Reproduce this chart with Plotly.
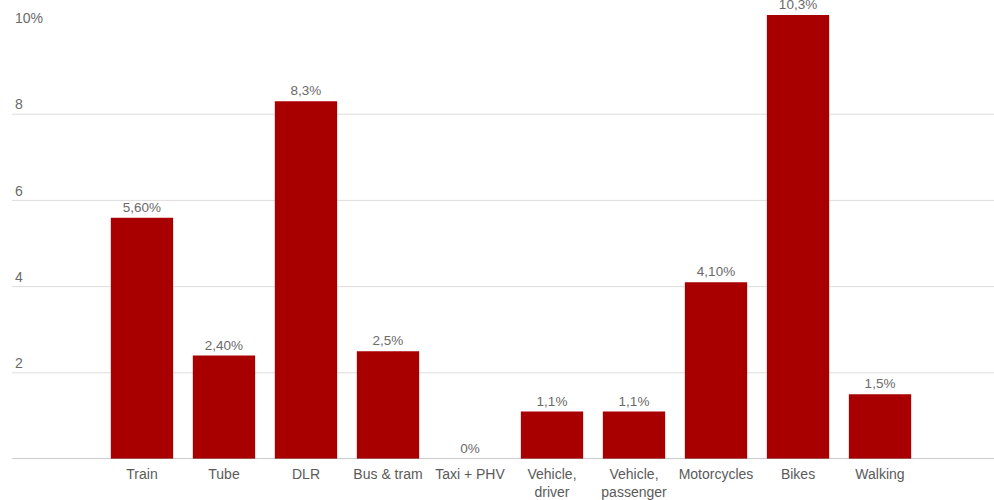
import plotly.graph_objects as go

categories = ["Train", "Tube", "DLR", "Bus & tram", "Taxi + PHV", "Vehicle,<br>driver",
              "Vehicle,<br>passenger", "Motorcycles", "Bikes", "Walking"]
values = [5.6, 2.4, 8.3, 2.5, 0, 1.1, 1.1, 4.1, 10.3, 1.5]
value_labels = ["5,60%", "2,40%", "8,3%", "2,5%", "0%", "1,1%", "1,1%", "4,10%", "10,3%", "1,5%"]
tick_vals = [2, 4, 6, 8, 10]
tick_text = ["2", "4", "6", "8", "10%"]
grid_vals = [2, 4, 6, 8]

FONT = "Liberation Sans, Arial, sans-serif"

fig = go.Figure(go.Bar(
    x=list(range(len(categories))), y=values,
    text=value_labels, textposition="outside", cliponaxis=False,
    textfont=dict(family=FONT, size=13.5, color="#6a6a6a"),
    marker=dict(color="#a80000", line=dict(width=0)),
    width=0.76,
))

shapes = [dict(type="line", xref="paper", x0=0, x1=1, yref="y", y0=g, y1=g,
               line=dict(color="#dddddd", width=1), layer="below") for g in grid_vals]
shapes.append(dict(type="line", xref="paper", x0=0, x1=1, yref="y", y0=0, y1=0,
                   line=dict(color="#999999", width=1.2)))

fig.update_layout(
    width=994, height=500,
    margin=dict(l=12, r=0, t=0, b=41),
    paper_bgcolor="white", plot_bgcolor="white",
    showlegend=False,
    shapes=shapes,
    xaxis=dict(tickmode="array", tickvals=list(range(len(categories))), ticktext=categories,
               range=[-1.585, 10.39], showgrid=False, zeroline=False, showline=False,
               ticks="", ticklabelstandoff=5,
               tickfont=dict(family=FONT, size=14, color="#5a5a5a")),
    yaxis=dict(range=[0, 10.65], tickmode="array", tickvals=tick_vals, ticktext=tick_text,
               showgrid=False, zeroline=False, showline=False, ticks="",
               ticklabelposition="inside top",
               tickfont=dict(family=FONT, size=14, color="#6a6a6a")),
)

fig.write_html("out.html")
